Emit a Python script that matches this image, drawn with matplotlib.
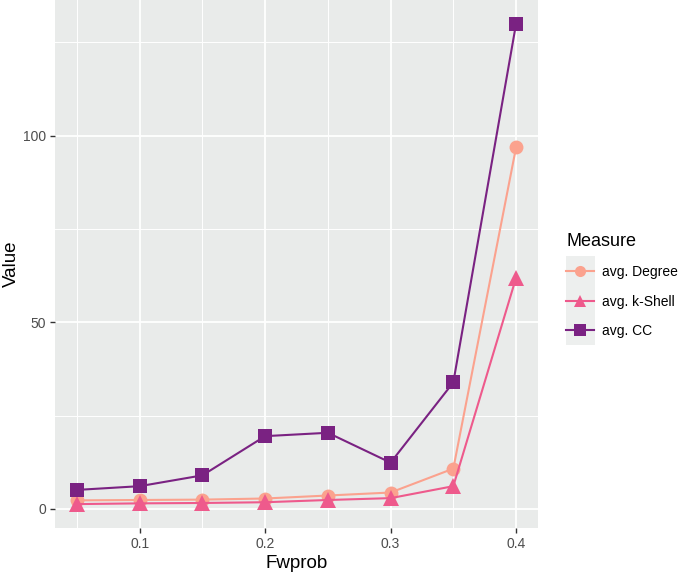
import matplotlib
matplotlib.use("Agg")
import matplotlib.pyplot as plt
from matplotlib.patches import Rectangle
from matplotlib.ticker import MultipleLocator

plt.rcParams['font.family'] = ['Liberation Sans', 'DejaVu Sans']

fwprob = [0.05, 0.10, 0.15, 0.20, 0.25, 0.30, 0.35, 0.40]
avg_degree = [2.3, 2.4, 2.5, 2.8, 3.6, 4.4, 10.8, 96.8]
avg_kshell = [1.3, 1.5, 1.6, 1.8, 2.4, 2.9, 6.1, 61.9]
avg_cc = [5.1, 6.1, 9.0, 19.5, 20.4, 12.4, 33.9, 129.9]

series_names = ['avg. Degree', 'avg. k-Shell', 'avg. CC']
colors = ['#FBA28E', '#EE5A8C', '#7A2282']
markers = ['o', '^', 's']

W, H = 685, 573
fig = plt.figure(figsize=(W / 100, H / 100), dpi=100)
ax = fig.add_axes([55 / W, (H - 528) / H, (538 - 55) / W, 528 / H])
ax.set_facecolor('#E9EBEA')

handles = []
for vals, name, c, m in zip([avg_degree, avg_kshell, avg_cc], series_names, colors, markers):
    h, = ax.plot(fwprob, vals, color=c, marker=m, markersize=10 if m != '^' else 11,
                 linewidth=1.5, label=name, zorder=3, markeredgewidth=0)
    handles.append(h)

ax.set_xlim(0.0325, 0.4175)
ax.set_ylim(-5.1, 136.3)
ax.xaxis.set_major_locator(MultipleLocator(0.1))
ax.xaxis.set_minor_locator(MultipleLocator(0.05))
ax.yaxis.set_major_locator(MultipleLocator(50))
ax.yaxis.set_minor_locator(MultipleLocator(25))
ax.set_xticks([0.1, 0.2, 0.3, 0.4])
ax.set_xticklabels(['0.1', '0.2', '0.3', '0.4'])
ax.grid(which='major', color='white', linewidth=1.3, zorder=0)
ax.grid(which='minor', color='white', linewidth=0.7, zorder=0)
ax.set_axisbelow(True)
for s in ax.spines.values():
    s.set_visible(False)
ax.tick_params(which='major', length=3.5, width=1, color='#333333',
               labelsize=10, labelcolor='#4D4D4D', pad=3)
ax.tick_params(which='minor', length=0)

ax.set_xlabel('Fwprob', fontsize=13.5, color='black', labelpad=3)
ax.set_ylabel('Value', fontsize=13.5, color='black', labelpad=2)

# legend key background
fig.patches.append(Rectangle((566 / W, 1 - 345 / H), 29 / W, 89 / H,
                             transform=fig.transFigure, facecolor='#EDEFEE',
                             edgecolor='none', zorder=0))
leg = fig.legend(handles=handles, loc='upper left', bbox_to_anchor=(566 / W, 1 - 233 / H),
                 bbox_transform=fig.transFigure, frameon=False, title='Measure',
                 alignment='left', fontsize=10, title_fontsize=13,
                 handlelength=2.05, handletextpad=0.55, labelspacing=1.1,
                 borderaxespad=0, borderpad=0, markerscale=0.8)
leg.set_zorder(5)

fig.savefig('out.png', dpi=100)
